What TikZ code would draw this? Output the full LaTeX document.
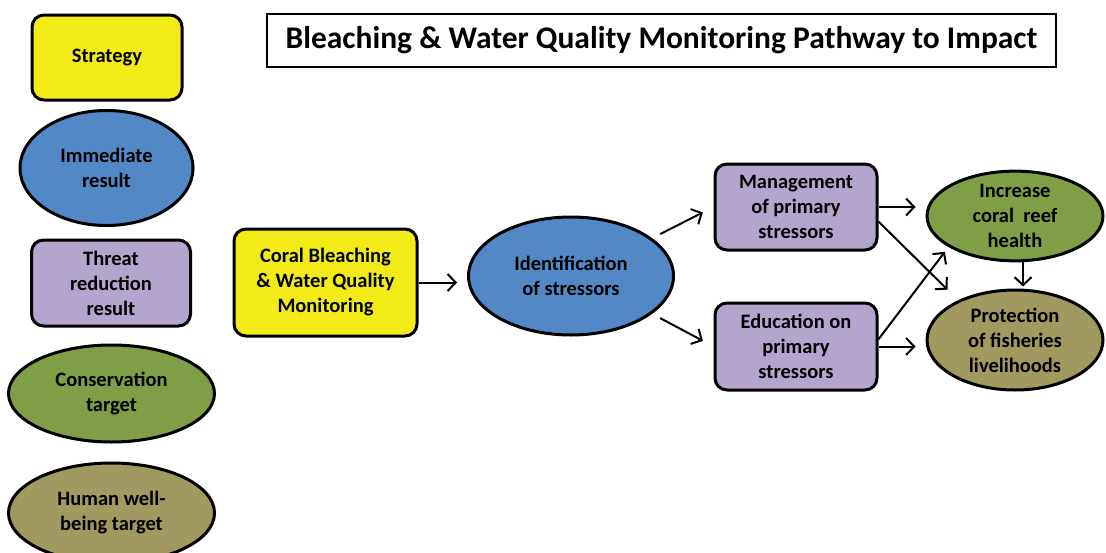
\documentclass[tikz,border=0pt]{standalone}
\usepackage{fontspec}
\setmainfont{Carlito}
\usetikzlibrary{shapes.geometric,arrows.meta,calc}
\definecolor{cyellow}{HTML}{F3EB18}
\definecolor{cblue}{HTML}{5388C6}
\definecolor{cpurple}{HTML}{B4A5CD}
\definecolor{cgreen}{HTML}{7F9E46}
\definecolor{colive}{HTML}{A09A60}
\tikzset{
  txt/.style={font=\fontsize{20.5}{25}\selectfont\bfseries, align=center, text=black, inner sep=0pt},
  rbox/.style={txt, draw=black, line width=3pt, rounded corners=12pt, rectangle},
  ell/.style={txt, draw=black, line width=3pt, ellipse},
  arr/.style={draw=black, line width=2pt, -{Straight Barb[length=8pt,width=17pt,line width=2pt]}},
}
\begin{document}
\begin{tikzpicture}[x=1pt,y=-1pt]
\useasboundingbox[fill=white] (0,0) rectangle (1106,552);
% legend
\node[rbox, fill=cyellow, minimum width=150pt, minimum height=85pt] (leg1) at (107,57.5) {Strategy};
\node[ell, fill=cblue, minimum width=173pt, minimum height=115pt] (leg2) at (106.5,168) {Immediate\\result};
\node[rbox, fill=cpurple, minimum width=159pt, minimum height=86pt] (leg3) at (111,283) {Threat\\reduction\\result};
\node[ell, fill=cgreen, minimum width=206pt, minimum height=97pt] (leg4) at (111.5,393.5) {Conservation\\target};
\node[ell, fill=colive, minimum width=206pt, minimum height=100pt] (leg5) at (111.5,513) {Human well-\\being target};
% title
\node[draw=black, line width=1.5pt, minimum width=789pt, minimum height=53pt, inner sep=0pt,
  font=\fontsize{31.5}{34}\selectfont\bfseries] (title) at (661.5,40.5) {Bleaching \& Water Quality Monitoring Pathway to Impact};
% chain
\node[rbox, fill=cyellow, minimum width=183pt, minimum height=107pt] (coral) at (325.5,282.5) {Coral Bleaching\\\& Water Quality\\Monitoring};
\node[ell, fill=cblue, minimum width=205pt, minimum height=118pt] (ident) at (571,276) {Identification\\of stressors};
\node[rbox, fill=cpurple, minimum width=162pt, minimum height=86pt] (mgmt) at (796,207) {Management\\of primary\\stressors};
\node[rbox, fill=cpurple, minimum width=162pt, minimum height=87pt] (edu) at (796,346.5) {Education on\\primary\\stressors};
\node[ell, fill=cgreen, minimum width=176pt, minimum height=88pt] (inc) at (1015,216) {Increase\\coral\ \ reef\\health};
\node[ell, fill=colive, minimum width=176pt, minimum height=100pt] (prot) at (1015,340) {Protection\\of fisheries\\livelihoods};
% connectors
\draw[arr, shorten >=10pt] (coral.east) -- (coral.east -| ident.west);
\draw[arr, shorten <=9pt, shorten >=12pt] (ident.25) -- (mgmt.west);
\draw[arr, shorten <=9pt, shorten >=12pt] (ident.-25) -- (edu.west);
\draw[arr, shorten >=10pt] (mgmt.east) -- (mgmt.east -| inc.west);
\draw[arr, shorten >=10pt] (edu.east) -- (edu.east -| prot.west);
\draw[arr, shorten >=15pt] (mgmt.-10) -- (prot.145);
\draw[arr, shorten >=6pt] (edu.5) -- (inc.205);
\draw[arr, shorten >=2pt] ([xshift=8pt]inc.south) -- ([xshift=8pt]inc.south |- prot.north);
\end{tikzpicture}
\end{document}
